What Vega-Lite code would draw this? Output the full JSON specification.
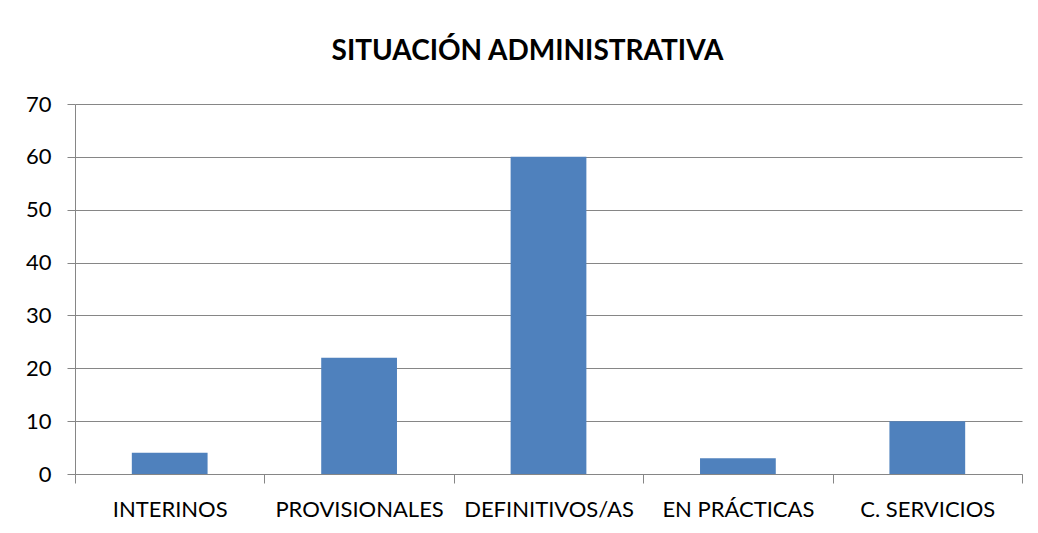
{
  "$schema": "https://vega.github.io/schema/vega-lite/v6.json",
  "width": 947,
  "height": 370,
  "autosize": {"type": "none"},
  "padding": {"left": 75, "top": 104, "right": 16, "bottom": 59},
  "background": "white",
  "title": {
    "text": "SITUACIÓN ADMINISTRATIVA",
    "font": "Lato",
    "fontSize": 28,
    "fontWeight": "bold",
    "color": "#000000",
    "anchor": "middle",
    "dx": -21,
    "offset": 27
  },
  "data": {
    "values": [
      {"categoria": "INTERINOS", "valor": 4},
      {"categoria": "PROVISIONALES", "valor": 22},
      {"categoria": "DEFINITIVOS/AS", "valor": 60},
      {"categoria": "EN PRÁCTICAS", "valor": 3},
      {"categoria": "C. SERVICIOS", "valor": 10}
    ]
  },
  "mark": {"type": "bar", "color": "#4F81BD", "width": {"band": 0.4}},
  "encoding": {
    "x": {
      "field": "categoria",
      "type": "nominal",
      "sort": null,
      "scale": {"paddingInner": 0, "paddingOuter": 0},
      "axis": {
        "title": null,
        "labelAngle": 0,
        "labelFont": "Lato",
        "labelFontSize": 22,
        "labelColor": "#000000",
        "labelPadding": 16,
        "tickBand": "extent",
        "tickSize": 9,
        "tickColor": "#868686",
        "domainColor": "#868686",
        "grid": false
      }
    },
    "y": {
      "field": "valor",
      "type": "quantitative",
      "scale": {"domain": [0, 70], "nice": false},
      "axis": {
        "title": null,
        "values": [0, 10, 20, 30, 40, 50, 60, 70],
        "labelFont": "Lato",
        "labelFontSize": 22,
        "labelColor": "#000000",
        "labelPadding": 16,
        "tickSize": 8,
        "tickColor": "#868686",
        "domainColor": "#868686",
        "gridColor": "#868686",
        "gridWidth": 1
      }
    }
  },
  "config": {
    "view": {"stroke": null},
    "axis": {"domainWidth": 1, "tickWidth": 1, "gridOpacity": 1}
  }
}
